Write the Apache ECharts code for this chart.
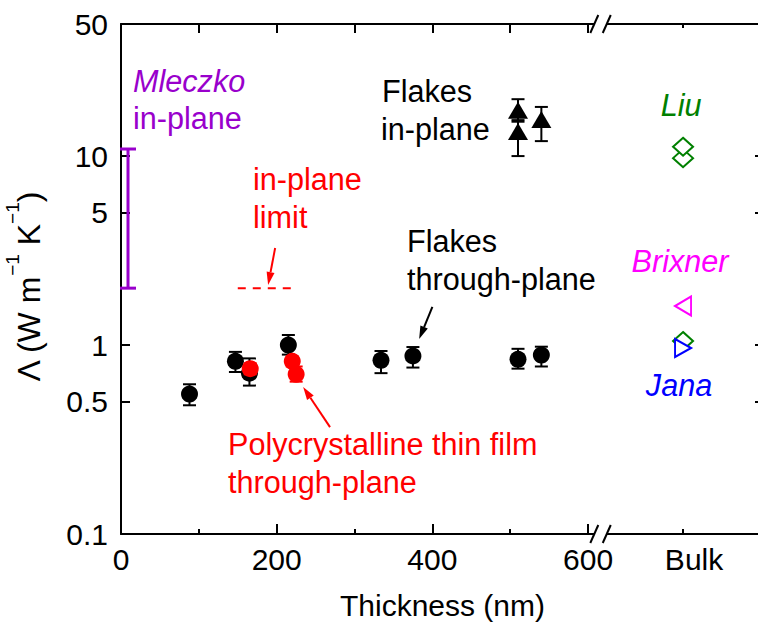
<!DOCTYPE html>
<html>
<head>
<meta charset="utf-8">
<script src="https://cdn.jsdelivr.net/npm/echarts@6/dist/echarts.min.js"></script>
<style>
  html, body { margin: 0; padding: 0; overflow: hidden; background: #fff; }
  #chart { width: 770px; height: 622px; }
</style>
</head>
<body>
<div id="chart"></div>
<script>
// ---- data -----------------------------------------------------------------
// Flakes, through-plane conductivity (W m^-1 K^-1) vs thickness (nm)
const flakeThickness = [88, 147, 165, 215, 334, 375, 510, 540];
const flakeCross     = [0.55, 0.82, 0.71, 1.00, 0.83, 0.875, 0.84, 0.885];
const flakeCrossLow  = [0.48, 0.72, 0.61, 0.89, 0.71, 0.76, 0.75, 0.77];
const flakeCrossHigh = [0.62, 0.92, 0.85, 1.13, 0.93, 0.976, 0.955, 0.98];

// Polycrystalline thin films, through-plane
const filmThickness = [166, 220, 225];
const filmCross     = [0.75, 0.82, 0.70];
const filmCrossLow  = [0.70, 0.77, 0.64];
const filmCrossHigh = [0.80, 0.87, 0.77];

// Flakes, in-plane
const flakeInThickness = [510, 510, 540];
const flakeIn          = [17.5, 13.5, 15.6];
const flakeInLow       = [15.5, 10.0, 12.0];
const flakeInHigh      = [20.0, 15.2, 18.2];

// Bulk literature values (plotted at the "Bulk" position)
const bulkPosition = 722;
const liuValues     = [9.75, 11.2, 1.05];
const brixnerValues = [1.61];
const janaValues    = [0.965];

// Mleczko in-plane range
const mleczkoThickness = 9;
const mleczkoRange     = [2.0, 10.9];

// In-plane limit (dashed segment)
const limitThickness = [150, 223];
const limitValue     = 2.0;

// Annotation arrows: [x0, y0, x1, y1] in data units, head at (x1, y1)
const limitArrow = [198, 3.26, 189, 2.08];
const flakeArrow = [400, 1.59, 383, 1.076];
const filmArrow  = [268.5, 0.368, 234, 0.60];

// Axes
const xMin = 0, xMax = 826;
const yMin = 0.1, yMax = 50;
const xLabelValues      = [0, 200, 400, 600, bulkPosition];
const xMajorTickValues  = [0, 200, 400, 600];
const xMinorTickValues  = [100, 300, 500, bulkPosition];
const xTopTickValues    = [0, 100, 200, 300, 400, 500, 600];
const yTickValues       = [0.1, 0.5, 1, 5, 10, 50];
const breakAt           = [608, 624];

// ---- styling helpers ------------------------------------------------------
const FONT = '"Liberation Sans", Arial, Helvetica, sans-serif';
const BLACK = '#000000', RED = '#ff0000', PURPLE = '#9900cc',
      GREEN = '#008000', MAGENTA = '#ff00ff', BLUE = '#0000ff';
const NOTE_SIZE = 30.6;

const zip = (...cols) => cols[0].map((_, i) => cols.map(c => c[i]));

function errorBars(name, xs, lo, hi, color, capWidth, lineWidth, z) {
  return {
    type: 'custom', name, silent: true, z,
    xAxisIndex: 0, yAxisIndex: 0,
    encode: { x: 0, y: [1, 2] },
    data: zip(xs, lo, hi),
    renderItem(params, api) {
      const x = api.value(0);
      const a = api.coord([x, api.value(1)]);
      const b = api.coord([x, api.value(2)]);
      const h = capWidth / 2;
      const style = { stroke: color, lineWidth };
      return {
        type: 'group',
        children: [
          { type: 'line', shape: { x1: a[0], y1: a[1], x2: b[0], y2: b[1] }, style },
          { type: 'line', shape: { x1: a[0] - h, y1: a[1], x2: a[0] + h, y2: a[1] }, style },
          { type: 'line', shape: { x1: b[0] - h, y1: b[1], x2: b[0] + h, y2: b[1] }, style }
        ]
      };
    }
  };
}

function arrows(name, list, color, z) {
  return {
    type: 'custom', name, silent: true, z,
    xAxisIndex: 0, yAxisIndex: 0,
    encode: { x: [0, 2], y: [1, 3] },
    data: list,
    renderItem(params, api) {
      const p0 = api.coord([api.value(0), api.value(1)]);
      const p1 = api.coord([api.value(2), api.value(3)]);
      const dx = p1[0] - p0[0], dy = p1[1] - p0[1];
      const len = Math.hypot(dx, dy);
      const ux = dx / len, uy = dy / len;
      const headLen = 13, headHalf = 4;
      const bx = p1[0] - ux * headLen, by = p1[1] - uy * headLen;
      return {
        type: 'group',
        children: [
          { type: 'line', shape: { x1: p0[0], y1: p0[1], x2: bx, y2: by },
            style: { stroke: color, lineWidth: 2 } },
          { type: 'polygon',
            shape: { points: [[p1[0], p1[1]],
                              [bx - uy * headHalf, by + ux * headHalf],
                              [bx + uy * headHalf, by - ux * headHalf]] },
            style: { fill: color } }
        ]
      };
    }
  };
}

function note(text, x, baseline, color, opts = {}) {
  const size = opts.size || NOTE_SIZE;
  return {
    type: 'text', x, y: baseline - 0.3465 * size, silent: true, z: 60,
    style: {
      text, fill: color, fontSize: size, fontFamily: FONT,
      fontStyle: opts.italic ? 'italic' : 'normal',
      align: opts.align || 'left', verticalAlign: 'middle'
    }
  };
}

const axisLineStyle = { color: BLACK, width: 2 };
const fmtY = v => String(Number(Number(v).toPrecision(6)));
const plotRect = { left: 121, right: 6, top: 24, bottom: 88, containLabel: false, outerBoundsMode: 'none' };

// ---- option ---------------------------------------------------------------
const option = {
  animation: false,
  backgroundColor: '#ffffff',
  grid: [ Object.assign({}, plotRect), Object.assign({}, plotRect) ],
  xAxis: [
    {
      gridIndex: 0, type: 'value', position: 'bottom', min: xMin, max: xMax,
      axisLine: { show: true, onZero: false, lineStyle: axisLineStyle },
      axisTick: { show: true, inside: true, length: 10, customValues: xMajorTickValues,
                  lineStyle: { color: BLACK, width: 2 } },
      axisLabel: {
        show: true, customValues: xLabelValues, margin: 10,
        color: BLACK, fontSize: 30, fontFamily: FONT,
        formatter: v => (v === bulkPosition ? '{b|Bulk}' : String(v)),
        rich: { b: { color: BLACK, fontSize: 30, fontFamily: FONT, padding: [0, 0, 0, 22] } }
      },
      splitLine: { show: false },
      name: 'Thickness (nm)', nameLocation: 'middle', nameGap: 56,
      nameTextStyle: { color: BLACK, fontSize: 30, fontFamily: FONT }
    },
    {
      gridIndex: 0, type: 'value', position: 'top', min: xMin, max: xMax,
      axisLine: { show: true, onZero: false, lineStyle: axisLineStyle },
      axisTick: { show: true, inside: true, length: 9, customValues: xTopTickValues,
                  lineStyle: { color: BLACK, width: 2 } },
      axisLabel: { show: false },
      splitLine: { show: false }
    },
    {
      gridIndex: 1, type: 'value', position: 'bottom', min: xMin, max: xMax,
      axisLine: { show: false, onZero: false },
      axisTick: { show: true, inside: true, length: 5, customValues: xMinorTickValues,
                  lineStyle: { color: BLACK, width: 2 } },
      axisLabel: { show: false },
      splitLine: { show: false }
    },
    {
      gridIndex: 1, type: 'value', position: 'top', min: xMin, max: xMax,
      axisLine: { show: false, onZero: false },
      axisTick: { show: true, inside: true, length: 4, customValues: [bulkPosition],
                  lineStyle: { color: BLACK, width: 2 } },
      axisLabel: { show: false },
      splitLine: { show: false }
    }
  ],
  yAxis: [
    {
      gridIndex: 0, type: 'log', logBase: 10, position: 'left', min: yMin, max: yMax,
      axisLine: { show: true, onZero: false, lineStyle: axisLineStyle },
      axisTick: { show: true, inside: true, length: 9, customValues: yTickValues,
                  lineStyle: { color: BLACK, width: 2 } },
      minorTick: { show: false },
      axisLabel: { show: true, customValues: yTickValues, margin: 13,
                   color: BLACK, fontSize: 30, fontFamily: FONT, formatter: fmtY },
      splitLine: { show: false },
      name: '{n|\u039B (W m}{s|\u22121}{n| K}{s|\u22121}{n|)}',
      nameLocation: 'middle', nameRotate: 90, nameGap: 66,
      nameTextStyle: {
        color: BLACK, fontFamily: FONT, padding: [0, 16, 0, 0],
        rich: {
          n: { fontSize: 32, fontFamily: FONT, color: BLACK, lineHeight: 52 },
          s: { fontSize: 19, fontFamily: FONT, color: BLACK, lineHeight: 18, verticalAlign: 'top' }
        }
      }
    },
    {
      gridIndex: 0, type: 'log', logBase: 10, position: 'right', min: yMin, max: yMax,
      axisLine: { show: true, onZero: false, lineStyle: axisLineStyle },
      axisTick: { show: true, inside: true, length: 9, customValues: yTickValues,
                  lineStyle: { color: BLACK, width: 2 } },
      minorTick: { show: false },
      axisLabel: { show: false },
      splitLine: { show: false }
    },
    {
      gridIndex: 1, type: 'log', logBase: 10, min: yMin, max: yMax, show: false
    }
  ],
  series: [
    errorBars('Mleczko in-plane', [mleczkoThickness], [mleczkoRange[0]], [mleczkoRange[1]],
              PURPLE, 16, 3, 3),
    {
      type: 'line', name: 'in-plane limit', xAxisIndex: 0, yAxisIndex: 0, z: 3,
      data: limitThickness.map(x => [x, limitValue]),
      showSymbol: false, symbol: 'none', silent: true,
      lineStyle: { color: RED, width: 2, type: [8, 7] }
    },
    errorBars('Flakes through-plane error', flakeThickness, flakeCrossLow, flakeCrossHigh,
              BLACK, 13, 2, 4),
    {
      type: 'scatter', name: 'Flakes through-plane', xAxisIndex: 0, yAxisIndex: 0, z: 5,
      data: zip(flakeThickness, flakeCross),
      symbol: 'circle', symbolSize: 17, silent: true,
      itemStyle: { color: BLACK, opacity: 1 }
    },
    errorBars('Polycrystalline error', filmThickness, filmCrossLow, filmCrossHigh,
              RED, 13, 2, 6),
    {
      type: 'scatter', name: 'Polycrystalline thin film through-plane',
      xAxisIndex: 0, yAxisIndex: 0, z: 7,
      data: zip(filmThickness, filmCross),
      symbol: 'circle', symbolSize: 17, silent: true,
      itemStyle: { color: RED, opacity: 1 }
    },
    errorBars('Flakes in-plane error', flakeInThickness, flakeInLow, flakeInHigh,
              BLACK, 13, 2, 4),
    {
      type: 'scatter', name: 'Flakes in-plane', xAxisIndex: 0, yAxisIndex: 0, z: 5,
      data: zip(flakeInThickness, flakeIn),
      symbol: 'triangle', symbolSize: [20, 17], silent: true,
      itemStyle: { color: BLACK, opacity: 1 }
    },
    {
      type: 'scatter', name: 'Liu', xAxisIndex: 0, yAxisIndex: 0, z: 5,
      data: liuValues.map(v => [bulkPosition, v]),
      symbol: 'diamond', symbolSize: [20, 18], silent: true,
      itemStyle: { color: '#ffffff', borderColor: GREEN, borderWidth: 2, opacity: 1 }
    },
    {
      type: 'scatter', name: 'Brixner', xAxisIndex: 0, yAxisIndex: 0, z: 5,
      data: brixnerValues.map(v => [bulkPosition, v]),
      symbol: 'triangle', symbolSize: [19, 16], symbolRotate: 90, silent: true,
      itemStyle: { color: '#ffffff', borderColor: MAGENTA, borderWidth: 2, opacity: 1 }
    },
    {
      type: 'scatter', name: 'Jana', xAxisIndex: 0, yAxisIndex: 0, z: 6,
      data: janaValues.map(v => [bulkPosition, v]),
      symbol: 'triangle', symbolSize: [18, 16], symbolRotate: -90, silent: true,
      itemStyle: { color: '#ffffff', borderColor: BLUE, borderWidth: 2, opacity: 1 }
    },
    arrows('limit arrow', [limitArrow], RED, 8),
    arrows('flake arrow', [flakeArrow], BLACK, 8),
    arrows('film arrow', [filmArrow], RED, 8)
  ],
  graphic: []
};

const chart = echarts.init(document.getElementById('chart'), null, { renderer: 'svg' });
chart.setOption(option);

// ---- axis break marks and annotations ---------------------------------------
const px = v => chart.convertToPixel({ xAxisIndex: 0 }, v);
const py = v => chart.convertToPixel({ yAxisIndex: 0 }, v);

function breakMark(yAxisPos) {
  const xa = px(breakAt[0]), xb = px(breakAt[1]);
  const dx = 4, dy = 9;
  const els = [
    { type: 'rect', shape: { x: xa, y: yAxisPos - 3, width: xb - xa, height: 6 },
      style: { fill: '#ffffff' }, z: 40, silent: true }
  ];
  [xa, xb].forEach(x => els.push({
    type: 'line', z: 41, silent: true,
    shape: { x1: x - dx, y1: yAxisPos + dy, x2: x + dx, y2: yAxisPos - dy },
    style: { stroke: BLACK, lineWidth: 2 }
  }));
  return els;
}

const bulkX = px(bulkPosition);
const graphics = [
  ...breakMark(py(yMin)),
  ...breakMark(py(yMax)),
  note('Mleczko', 133, 92, PURPLE, { italic: true }),
  note('in-plane', 133, 129, PURPLE),
  note('in-plane', 253, 190, RED),
  note('limit', 253, 228, RED),
  note('Flakes', 382, 102, BLACK),
  note('in-plane', 381, 140, BLACK),
  note('Flakes', 407, 252, BLACK),
  note('through-plane', 407, 290, BLACK),
  note('Liu', bulkX - 2, 116, GREEN, { italic: true, align: 'center' }),
  note('Brixner', bulkX - 3, 272, MAGENTA, { italic: true, align: 'center' }),
  note('Jana', bulkX - 4, 396, BLUE, { italic: true, align: 'center' }),
  note('Polycrystalline thin film', 228, 455, RED),
  note('through-plane', 228, 493, RED)
];
chart.setOption({ graphic: graphics });
</script>
</body>
</html>
